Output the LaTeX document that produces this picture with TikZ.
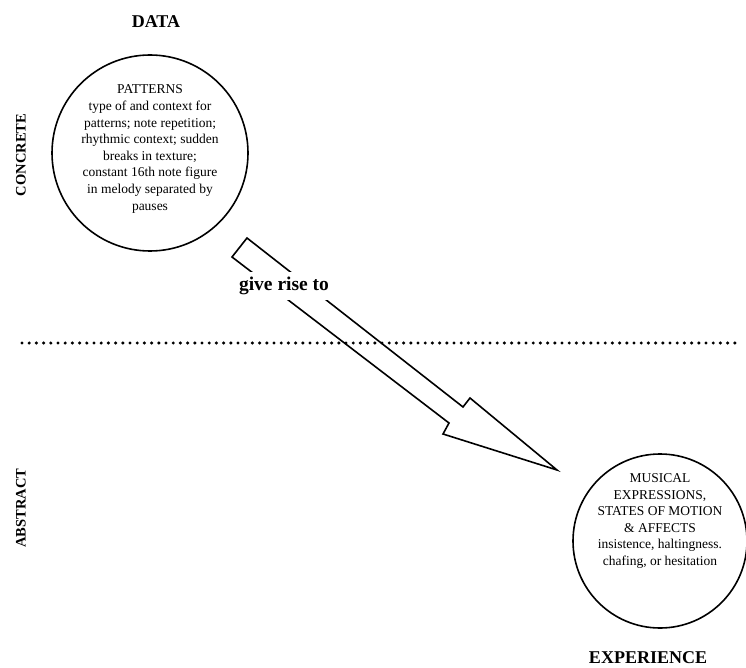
\documentclass[tikz,border=0pt]{standalone}
\usepackage{fontspec}
\setmainfont{Liberation Serif}
\usetikzlibrary{positioning}
\tikzset{
    %Define style for circles
    bubble/.style={
           circle,
           draw=black, line width=1.6pt,
           inner sep=0pt},
    %Define style for text in circles
    bubbletext/.style={
           align=center,
           font=\fontsize{13.5}{16.6}\selectfont,
           inner sep=0pt},
    %Define style for headings
    heading/.style={
           font=\fontsize{18}{20}\selectfont\bfseries,
           inner sep=0pt},
    side/.style={
           font=\fontsize{14.5}{16}\selectfont\bfseries,
           rotate=90,
           inner sep=0pt},
    % Define arrow style
    hollow/.style={
           draw=black, line width=1.6pt,
           line join=miter},
    divider/.style={
           line width=3.4pt,
           line cap=round,
           dash pattern=on 0pt off 7.2pt}
}

\begin{document}
\begin{tikzpicture}[x=1pt, y=-1pt]
 \useasboundingbox (0,0) rectangle (746,668);
 %nodes
    \node[bubble, minimum size=196pt] (pat) at (150,153) {};
    \node[bubbletext] (pattext) at ([yshift=4pt]pat.center) {PATTERNS\\type of and context for\\patterns; note repetition;\\rhythmic context; sudden\\breaks in texture;\\constant 16th note figure\\in melody separated by\\pauses};
    \node[heading, above=26pt of pat.north, xshift=6pt] (data) {DATA};
    \node[side] (conc) at (21,155) {CONCRETE};
    \node[bubble, minimum size=174pt] (exp) at (660,541) {};
    \node[bubbletext] (exptext) at ([yshift=20pt]exp.center) {MUSICAL\\EXPRESSIONS,\\STATES OF MOTION\\\& AFFECTS\\insistence, haltingness.\\chafing, or hesitation};
    \node[heading, below=23pt of exp.south, xshift=-12pt] (expr) {EXPERIENCE};
    \node[side] (abs) at (21,508) {ABSTRACT};
 %divider
    \coordinate (divl) at (22,343);
    \coordinate (divr) at (737,343);
    \draw[divider] (divl) -- (divr);
 %arrow
    \coordinate (tailb) at (232,257);
    \coordinate (taila) at (247,238);
    \coordinate (necka) at (463,407);
    \coordinate (barba) at (470,398);
    \coordinate (tip) at (557,470);
    \coordinate (barbb) at (443,434);
    \coordinate (neckb) at (449,423);
    \draw[hollow] (tailb) -- (taila) -- (necka) -- (barba) -- (tip) -- (barbb) -- (neckb) -- cycle;
    \node[heading, font=\fontsize{19.5}{21}\selectfont\bfseries, fill=white, inner xsep=2pt, inner ysep=5pt] (rise) at (284,286) {give rise to};
\end{tikzpicture}
\end{document}
